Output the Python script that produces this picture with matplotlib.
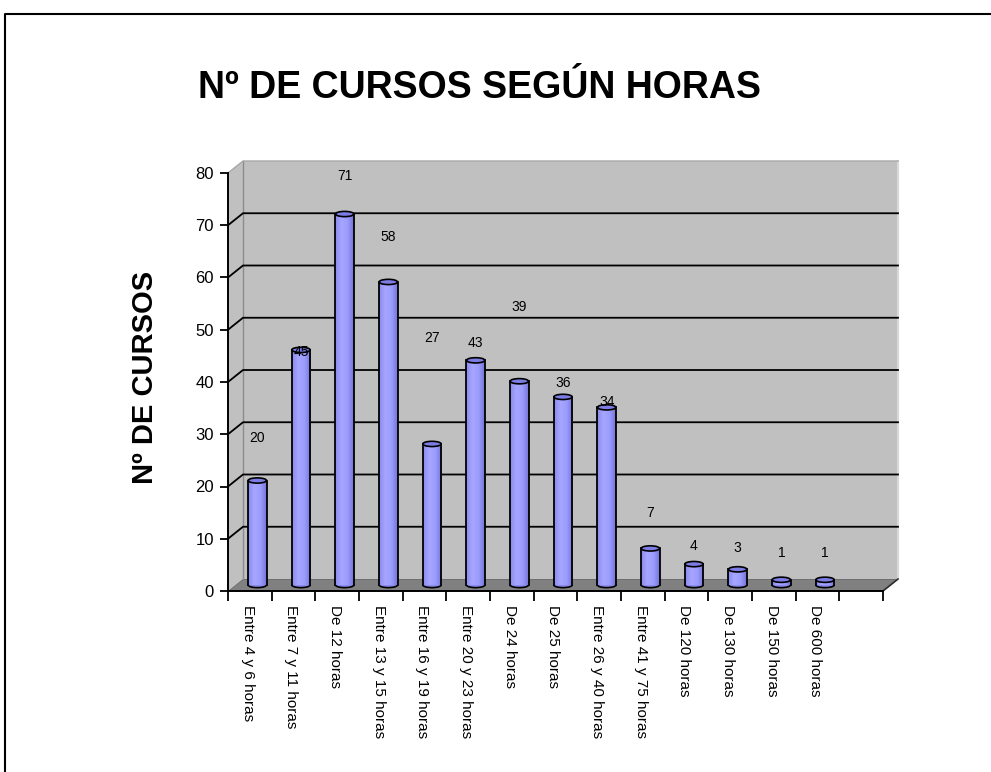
import numpy as np
import matplotlib
matplotlib.use("Agg")
import matplotlib.pyplot as plt
from matplotlib.patches import Rectangle, Polygon, Ellipse
from matplotlib.colors import LinearSegmentedColormap

plt.rcParams['font.family'] = ['Liberation Sans', 'DejaVu Sans']

# data
categorias = ["Entre 4 y 6 horas", "Entre 7 y 11 horas", "De 12 horas",
              "Entre 13 y 15 horas", "Entre 16 y 19 horas", "Entre 20 y 23 horas",
              "De 24 horas", "De 25 horas", "Entre 26 y 40 horas",
              "Entre 41 y 75 horas", "De 120 horas", "De 130 horas",
              "De 150 horas", "De 600 horas"]
cursos = [20, 45, 71, 58, 27, 43, 39, 36, 34, 7, 4, 3, 1, 1]
# Excel put the value labels at odd heights, keep them as in the picture
label_y = [29.3, 45.7, 79.5, 67.7, 48.4, 47.4, 54.3, 39.8, 36.1, 14.9, 8.6, 8.2, 7.3, 7.3]
yticks = [0, 10, 20, 30, 40, 50, 60, 70, 80]

W, H = 991, 772
fig = plt.figure(figsize=(W / 100, H / 100), dpi=100)

# front plane of the 3d box, in pixels
x0, x1, y_top, y_bot = 228, 883, 173, 591
ax = fig.add_axes([x0 / W, 1 - y_bot / H, (x1 - x0) / W, (y_bot - y_top) / H])
nslots = 15
ymax = 80
ax.set_xlim(0, nslots)
ax.set_ylim(0, ymax)
ax.patch.set_visible(False)

# depth of the box (15 px right, 12 px up) in data units
dx = 15 / ((x1 - x0) / nslots)
dy = 12 / ((y_bot - y_top) / ymax)

# floor
ax.add_patch(Polygon([(0, 0), (nslots, 0), (nslots + dx, dy), (dx, dy)],
                     closed=True, fc="#808080", ec="#606060", lw=0.8, clip_on=False, zorder=1))
# side wall
ax.add_patch(Polygon([(0, 0), (0, ymax), (dx, ymax + dy), (dx, dy)],
                     closed=True, fc="#C0C0C0", ec="none", clip_on=False, zorder=1))
# back wall
ax.add_patch(Rectangle((dx, dy), nslots, ymax, fc="#C0C0C0", ec="none",
                       clip_on=False, zorder=1))
ax.plot([dx, dx], [dy, ymax + dy], color="#8c8c8c", lw=1, clip_on=False, zorder=2)
ax.plot([nslots + dx, nslots + dx], [dy, ymax + dy], color="#d8d8d8", lw=1.5,
        clip_on=False, zorder=2)
ax.plot([0, dx, nslots + dx], [ymax, ymax + dy, ymax + dy], color="#a8a8a8", lw=1,
        clip_on=False, zorder=2)

# gridlines, back wall and side wall
for t in yticks[1:-1]:
    ax.plot([0, dx, nslots + dx], [t, t + dy, t + dy], color="black", lw=1.3,
            clip_on=False, zorder=2)
ax.plot([nslots, nslots + dx], [0, dy], color="#303030", lw=1.2, clip_on=False, zorder=2)

# cylinders
cmap = LinearSegmentedColormap.from_list("cyl", ["#8a8aee", "#a6a6ff", "#9c9cff", "#7474d6"])
grad = np.linspace(0, 1, 64).reshape(1, -1)
bw = 0.42
cap_h = 1.0
for i, v in enumerate(cursos):
    xc = i + 0.5 + dx / 2
    yb = dy / 2
    ax.imshow(grad, cmap=cmap, aspect="auto", extent=(xc - bw / 2, xc + bw / 2, yb, yb + v),
              zorder=3, interpolation="bilinear")
    ax.add_patch(Ellipse((xc, yb), bw, cap_h, fc="#8a8aee", ec="black", lw=1.2, zorder=2.9))
    ax.plot([xc - bw / 2, xc - bw / 2], [yb, yb + v], color="black", lw=1.3, zorder=4)
    ax.plot([xc + bw / 2, xc + bw / 2], [yb, yb + v], color="black", lw=1.3, zorder=4)
    ax.add_patch(Ellipse((xc, yb + v), bw, cap_h, fc="#7c7ce4", ec="black", lw=1.2, zorder=5))
    ax.text(i + 0.5 + dx / 2, label_y[i], str(v), ha="center", va="center",
            fontsize=10, zorder=6)

ax.set_xlim(0, nslots)
ax.set_ylim(0, ymax)

# axes
for s in ["top", "right"]:
    ax.spines[s].set_visible(False)
ax.spines["left"].set_linewidth(1.4)
ax.spines["bottom"].set_linewidth(1.4)
ax.spines["left"].set_zorder(7)
ax.spines["bottom"].set_zorder(7)
ax.set_yticks(yticks)
ax.tick_params(axis="y", length=6, width=1.3, labelsize=12, pad=4)
ax.set_xticks(np.arange(nslots + 1))
ax.set_xticklabels([])
ax.tick_params(axis="x", length=7, width=1.3)
for i, c in enumerate(categorias):
    ax.text(i + 0.45, -2.6, c, rotation=270, ha="center", va="top", fontsize=11)

fig.text(480 / W, 1 - 88 / H, "Nº DE CURSOS SEGÚN HORAS", ha="center", va="center",
         fontsize=27, fontweight="bold")
fig.text(145 / W, 1 - 377 / H, "Nº DE CURSOS", ha="center", va="center",
         rotation=90, fontsize=21, fontweight="bold")

# outer frame of the chart area (cut by the image edges)
fig.add_artist(plt.Line2D([5 / W, 5 / W, 1.0], [0, 1 - 14 / H, 1 - 14 / H],
                          transform=fig.transFigure, color="black", lw=1.5))

fig.savefig("out.png", dpi=100)
